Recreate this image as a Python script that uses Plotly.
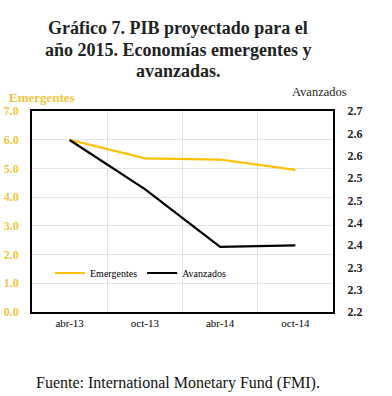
import plotly.graph_objects as go

categories = ["abr-13", "oct-13", "abr-14", "oct-14"]
emergentes = [6.0, 5.35, 5.31, 4.95]
avanzados = [2.585, 2.475, 2.346, 2.349]
left_ticks = [0, 1, 2, 3, 4, 5, 6, 7]
left_labels = ["0.0", "1.0", "2.0", "3.0", "4.0", "5.0", "6.0", "7.0"]
right_ticks = [2.2, 2.25, 2.3, 2.35, 2.4, 2.45, 2.5, 2.55, 2.6, 2.65]
right_labels = ["2.2", "2.3", "2.3", "2.4", "2.4", "2.5", "2.5", "2.6", "2.6", "2.7"]
title_lines = ["Gráfico 7. PIB proyectado para el",
               "año 2015. Economías emergentes y",
               "avanzadas."]

SERIF = "Liberation Serif, Times New Roman, DejaVu Serif, serif"
GOLD = "#FFC000"
GOLD_TXT = "#F2C43C"

# window coords -> paper coords (plot area x 32..333, y 111..312 in window)
def px(xw):
    return (xw - 32) / 301

def py(yw):
    return (312 - yw) / 201

fig = go.Figure()
fig.add_trace(go.Scatter(x=categories, y=emergentes, name="Emergentes", mode="lines",
                         line=dict(color=GOLD, width=2.2), yaxis="y"))
fig.add_trace(go.Scatter(x=categories, y=avanzados, name="Avanzados", mode="lines",
                         line=dict(color="black", width=2.2), yaxis="y2"))

fig.update_layout(
    width=392, height=396,
    margin=dict(l=32, r=59, t=111, b=84),
    plot_bgcolor="white", paper_bgcolor="white",
    font=dict(family=SERIF, color="black"),
    showlegend=True,
    legend=dict(orientation="h", x=px(50), y=py(273), xanchor="left", yanchor="middle",
                font=dict(size=10, family=SERIF), bgcolor="rgba(0,0,0,0)",
                itemwidth=30, tracegroupgap=0),
    xaxis=dict(type="category", tickson="boundaries", showgrid=True, gridcolor="#E3E3E3",
               showline=True, linecolor="black", linewidth=1.5, mirror=True, automargin=False,
               ticks="outside", ticklen=21, tickcolor="rgba(0,0,0,0)",
               tickfont=dict(size=11, family=SERIF, color="black"), range=[-0.5, 3.5]),
    yaxis=dict(range=[0, 7], tickvals=left_ticks, ticktext=left_labels, automargin=False,
               showgrid=True, gridcolor="#E3E3E3", zeroline=False,
               showline=True, linecolor="black", linewidth=1.5, mirror=True,
               ticks="outside", ticklen=9, tickcolor="rgba(0,0,0,0)",
               tickfont=dict(size=12, family=SERIF, color=GOLD_TXT, weight="bold")),
    yaxis2=dict(range=[2.2, 2.65], tickvals=right_ticks, ticktext=right_labels, automargin=False,
                overlaying="y", side="right", showgrid=False, zeroline=False,
                showline=False, ticks="outside", ticklen=11, tickcolor="rgba(0,0,0,0)",
                tickfont=dict(size=12, family=SERIF, color="#222222", weight="bold")),
)

for i, (line, yw) in enumerate(zip(title_lines, [28, 50, 71])):
    fig.add_annotation(text="<b>" + line + "</b>", xref="paper", yref="paper",
                       x=px(178), y=py(yw), xanchor="center", yanchor="middle",
                       showarrow=False, font=dict(size=18, family=SERIF, color="#222222"))
fig.add_annotation(text="<b>Emergentes</b>", xref="paper", yref="paper",
                   x=px(42), y=py(97), xanchor="center", yanchor="middle",
                   showarrow=False, font=dict(size=13, family=SERIF, color=GOLD_TXT))
fig.add_annotation(text="Avanzados", xref="paper", yref="paper",
                   x=px(319), y=py(92), xanchor="center", yanchor="middle",
                   showarrow=False, font=dict(size=12.5, family=SERIF, color="#222222"))
fig.add_annotation(text="Fuente: International Monetary Fund (FMI).", xref="paper", yref="paper",
                   x=px(178), y=py(383), xanchor="center", yanchor="middle",
                   showarrow=False, font=dict(size=16, family=SERIF, color="#111111"))

fig.write_html("out.html", config={"displayModeBar": False},
               post_script="document.body.style.margin='0px';")
